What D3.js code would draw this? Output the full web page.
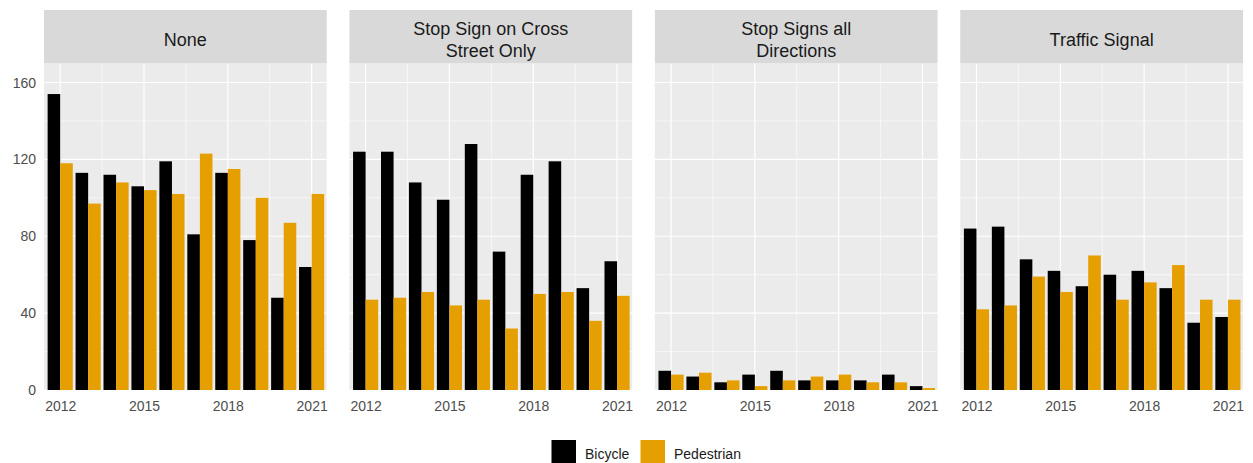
<!DOCTYPE html>
<html><head><meta charset="utf-8">
<script src="https://cdn.jsdelivr.net/npm/d3@7"></script>
<style>body{margin:0;background:#fff}svg{display:block;font-family:"Liberation Sans",Arial,sans-serif}</style>
</head><body><svg id="c" width="1253" height="463"></svg>
<script>
const years = [2012,2013,2014,2015,2016,2017,2018,2019,2020,2021];
const panels = ["None","Stop Sign on Cross\nStreet Only","Stop Signs all\nDirections","Traffic Signal"];
const seriesNames = ["Bicycle","Pedestrian"];
const colors = ["#000000","#E69F00"];
const bicycle = [
  [154,113,112,106,119,81,113,78,48,64],
  [124,124,108,99,128,72,112,119,53,67],
  [10,7,4,8,10,5,5,5,8,2],
  [84,85,68,62,54,60,62,53,35,38]
];
const pedestrian = [
  [118,97,108,104,102,123,115,100,87,102],
  [47,48,51,44,47,32,50,51,36,49],
  [8,9,5,2,5,7,8,4,4,1],
  [42,44,59,51,70,47,56,65,47,47]
];
const yTicks = [0,40,80,120,160];
const yMinor = [20,60,100,140];
const xTicks = [2012,2015,2018,2021];
const xMinor = [2013.5,2016.5,2019.5];

const svg = d3.select("#c");
const pLeft = 44, pRight = 1243, gap = 22.7, pTop = 63.3, pBottom = 390, stripTop = 10;
const pw = (pRight-pLeft-3*gap)/4;
const y = d3.scaleLinear().domain([0,170]).range([pBottom, pTop]);
const barW = 0.45;

panels.forEach((name, i) => {
  const x0 = pLeft + i*(pw+gap);
  const x = d3.scaleLinear().domain([2011.42, 2021.54]).range([x0, x0+pw]);
  const g = svg.append("g");
  g.append("rect").attr("x",x0).attr("y",pTop).attr("width",pw).attr("height",pBottom-pTop).attr("fill","#EBEBEB");
  g.selectAll(".ym").data(yMinor).join("line").attr("x1",x0).attr("x2",x0+pw)
    .attr("y1",d=>y(d)).attr("y2",d=>y(d)).attr("stroke","#fff").attr("stroke-width",0.6);
  g.selectAll(".xm").data(xMinor).join("line").attr("y1",pTop).attr("y2",pBottom)
    .attr("x1",d=>x(d)).attr("x2",d=>x(d)).attr("stroke","#fff").attr("stroke-width",0.6);
  g.selectAll(".yM").data(yTicks).join("line").attr("x1",x0).attr("x2",x0+pw)
    .attr("y1",d=>y(d)).attr("y2",d=>y(d)).attr("stroke","#fff").attr("stroke-width",1.2);
  g.selectAll(".xM").data(xTicks).join("line").attr("y1",pTop).attr("y2",pBottom)
    .attr("x1",d=>x(d)).attr("x2",d=>x(d)).attr("stroke","#fff").attr("stroke-width",1.2);
  [bicycle[i], pedestrian[i]].forEach((vals, s) => {
    g.append("g").selectAll("rect").data(vals).join("rect")
      .attr("x",(d,j)=>x(years[j] - barW + s*barW))
      .attr("width",(d,j)=>x(years[j]+barW)-x(years[j]))
      .attr("y",d=>y(d)).attr("height",d=>y(0)-y(d)).attr("fill",colors[s]);
  });
  g.append("rect").attr("x",x0).attr("y",stripTop).attr("width",pw).attr("height",pTop-stripTop).attr("fill","#D9D9D9");
  const lines = name.split("\n");
  const t = g.append("text").attr("text-anchor","middle").attr("fill","#1A1A1A").attr("font-size",18);
  const cy = (stripTop+pTop)/2;
  lines.forEach((l, k) => {
    t.append("tspan").attr("x",x0+pw/2)
      .attr("y", cy + 9.5 + (k - (lines.length-1)/2)*22).text(l);
  });
  const xa = g.append("g").attr("transform",`translate(0,${pBottom})`)
    .call(d3.axisBottom(x).tickValues(xTicks).tickFormat(d3.format("d")).tickSize(0).tickPadding(11));
  xa.select(".domain").remove();
  xa.selectAll("text").attr("fill","#4D4D4D").attr("font-size",14).attr("font-family","Liberation Sans, Arial, sans-serif");
  if (i===0) {
    const ya = g.append("g").attr("transform",`translate(${x0},0)`)
      .call(d3.axisLeft(y).tickValues(yTicks).tickSize(0).tickPadding(8));
    ya.select(".domain").remove();
    ya.selectAll("text").attr("fill","#4D4D4D").attr("font-size",14).attr("font-family","Liberation Sans, Arial, sans-serif");
  }
});

const lg = svg.append("g");
const legX = [551.5, 640.5];
seriesNames.forEach((n, s) => {
  lg.append("rect").attr("x",legX[s]).attr("y",440).attr("width",24.5).attr("height",24).attr("fill",colors[s]);
  lg.append("text").attr("x",legX[s]+33.5).attr("y",459).attr("font-size",14).attr("fill","#1A1A1A").text(n);
});
</script></body></html>
